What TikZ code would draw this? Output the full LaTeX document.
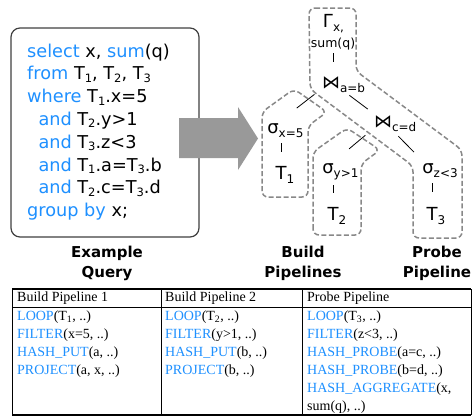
\documentclass[tikz,border=0pt]{standalone}
\usepackage{fontspec}
\setmainfont{DejaVu Sans}
\newfontfamily\tabfont{Liberation Serif}
\definecolor{kw}{RGB}{30,144,255}
\definecolor{dgray}{RGB}{136,136,136}
\definecolor{agray}{RGB}{153,153,153}
\newcommand{\kw}[1]{\textcolor{kw}{#1}}
\newcommand{\qsub}[1]{\raisebox{-2.5pt}{\fontsize{11.5}{11.5}\selectfont #1}}
\newcommand{\tsub}[1]{\rlap{\smash{\raisebox{-4pt}{\fontsize{12}{12}\selectfont #1}}}}
\tikzset{
  qline/.style={anchor=base west, inner sep=0, font=\fontsize{17.7}{22.8}\selectfont},
  tn/.style={anchor=base, inner sep=0, text height=13pt, text depth=0pt, font=\fontsize{18}{18}\selectfont},
  tsmall/.style={anchor=base, inner sep=0, text height=9pt, text depth=0pt, font=\fontsize{12.5}{12.5}\selectfont},
  edge/.style={draw=black, line width=0.8pt},
  pipe/.style={draw=dgray, line width=1.5pt, dash pattern=on 5pt off 2.5pt, rounded corners=6pt},
  lbl/.style={anchor=base, inner sep=0, font=\bfseries\fontsize{15}{20}\selectfont},
  cell/.style={anchor=base west, inner sep=0, font=\tabfont\fontsize{14}{18}\selectfont},
}
\begin{document}
\begin{tikzpicture}[x=1pt,y=-1pt]
\useasboundingbox (0,0) rectangle (473,416);
% query box
\draw[line width=1.2pt, draw=black!75, fill=white, rounded corners=9pt] (11,28) rectangle (199,237);
\node[qline] (q1) at (27,57) {\kw{select} x, \kw{sum}(q)};
\node[qline] (q2) at (27,79.8) {\kw{from} T\qsub{1}, T\qsub{2}, T\qsub{3}};
\node[qline] (q3) at (27,102.6) {\kw{where} T\qsub{1}.x=5};
\node[qline] (q4) at (38.3,125.4) {\kw{and} T\qsub{2}.y>1};
\node[qline] (q5) at (38.3,148.2) {\kw{and} T\qsub{3}.z<3};
\node[qline] (q6) at (38.3,171) {\kw{and} T\qsub{1}.a=T\qsub{3}.b};
\node[qline] (q7) at (38.3,193.8) {\kw{and} T\qsub{2}.c=T\qsub{3}.d};
\node[qline] (q8) at (27,216.6) {\kw{group by} x;};
% big arrow
\fill[agray] (179,118) -- (238,118) -- (238,107) -- (258,138.5) -- (238,170) -- (238,158) -- (179,158) -- cycle;
% pipelines outlines
\draw[pipe] (309,8) -- (356,8) -- (356,71) -- (462,150) -- (462,238) -- (413,238) -- (413,166) -- (310,89) -- cycle;
\draw[pipe] (262,197) -- (262,112) -- (294,89) -- (327,112) -- (308,126) -- (308,197) -- cycle;
\draw[pipe] (313,235) -- (313,152) -- (347,128) -- (380,150) -- (361,164) -- (361,235) -- cycle;
% tree nodes
\node[tn] (gam) at (328,27) {Γ\tsub{x,}};
\node[tsmall] (sumq) at (333,47) {sum(q)};
\node[tn] (ab) at (331,88) {⋈\tsub{a=b}};
\node[tn] (cd) at (383,127) {⋈\tsub{c=d}};
\node[tn] (sx) at (273,133) {σ\tsub{x=5}};
\node[tn] (t1) at (281,179) {T\tsub{1}};
\node[tn] (sy) at (328,173) {σ\tsub{y>1}};
\node[tn] (t2) at (333,220) {T\tsub{2}};
\node[tn] (sz) at (428,173) {σ\tsub{z<3}};
\node[tn] (t3) at (432,220) {T\tsub{3}};
% tree edges
\draw[edge, shorten <=6pt, shorten >=13pt] (sumq.south) -- (sumq.south |- ab.north);
\draw[edge, shorten <=21pt, shorten >=30pt] (ab.center) -- (sx.center);
\draw[edge, shorten <=23pt, shorten >=19pt] (ab.center) -- (cd.center);
\draw[edge, shorten <=23pt, shorten >=27.5pt] (cd.center) -- (sy.center);
\draw[edge, shorten <=22pt, shorten >=20pt] (cd.center) -- (sz.center);
\draw[edge, shorten <=14pt, shorten >=10pt] (t1.north) -- (t1.north |- sx.south);
\draw[edge, shorten <=14pt, shorten >=12pt] (t2.north) -- (t2.north |- sy.south);
\draw[edge, shorten <=15pt, shorten >=10pt] (t3.north) -- (t3.north |- sz.south);
% labels
\node[lbl] (ex1) at (107,257) {Example};
\node[lbl] (ex2) at (107,277) {Query};
\node[lbl] (b1) at (303,257) {Build};
\node[lbl] (b2) at (303,277) {Pipelines};
\node[lbl] (p1) at (437,257) {Probe};
\node[lbl] (p2) at (437,277) {Pipeline};
% table
\draw[line width=1.2pt] (12,289) -- (471,289);
\draw[line width=1.2pt] (12,415) -- (471,415);
\draw[line width=0.8pt] (12,307) -- (471,307);
\draw[line width=0.9pt] (12,289) -- (12,415);
\draw[line width=0.9pt] (161,289) -- (161,415);
\draw[line width=0.9pt] (302,289) -- (302,415);
\draw[line width=0.9pt] (471,289) -- (471,415);
\node[cell] (h1) at (17,301) {Build Pipeline 1};
\node[cell] (h2) at (165,301) {Build Pipeline 2};
\node[cell] (h3) at (307,301) {Probe Pipeline};
\foreach \t [count=\i] in {{\kw{LOOP}(T\textsubscript{1}, ..)},{\kw{FILTER}(x=5, ..)},{\kw{HASH\_PUT}(a, ..)},{\kw{PROJECT}(a, x, ..)}}
  \node[cell] (a\i) at (17,302+18*\i) {\t};
\foreach \t [count=\i] in {{\kw{LOOP}(T\textsubscript{2}, ..)},{\kw{FILTER}(y>1, ..)},{\kw{HASH\_PUT}(b, ..)},{\kw{PROJECT}(b, ..)}}
  \node[cell] (b\i) at (165,302+18*\i) {\t};
\foreach \t [count=\i] in {{\kw{LOOP}(T\textsubscript{3}, ..)},{\kw{FILTER}(z<3, ..)},{\kw{HASH\_PROBE}(a=c, ..)},{\kw{HASH\_PROBE}(b=d, ..)},{\kw{HASH\_AGGREGATE}(x,},{sum(q), ..)}}
  \node[cell] (c\i) at (307,302+18*\i) {\t};
\end{tikzpicture}
\end{document}
